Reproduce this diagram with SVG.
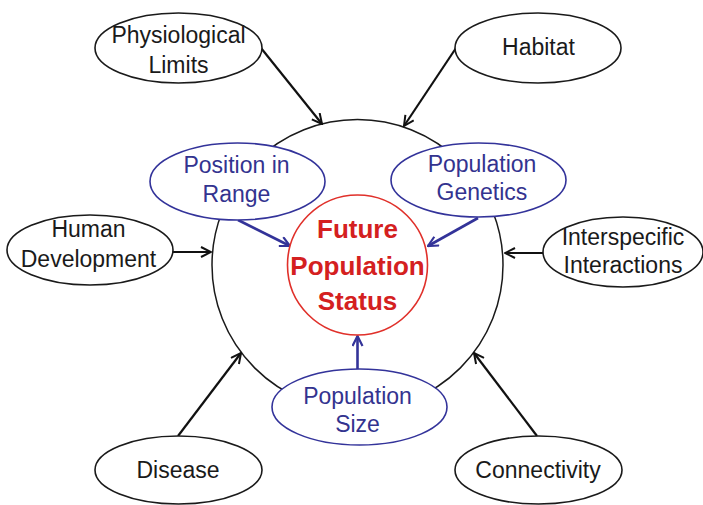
<svg xmlns="http://www.w3.org/2000/svg" width="703" height="505" viewBox="0 0 703 505">
<defs>
<style>
.outer{fill:#fff;stroke:#1a1a1a;stroke-width:1.6}
.inner{fill:#fff;stroke:#33339a;stroke-width:1.6}
.core{fill:#fff;stroke:#e0302a;stroke-width:1.6}
.t{font-family:"Liberation Sans",Arial,sans-serif;font-size:23px;text-anchor:middle;fill:#1a1a1a}
.tb{font-family:"Liberation Sans",Arial,sans-serif;font-size:23px;text-anchor:middle;fill:#33338f}
.tr{font-family:"Liberation Sans",Arial,sans-serif;font-size:26px;font-weight:bold;text-anchor:middle;fill:#d42020}
.ca{stroke:#111;stroke-width:2.2;fill:none}
.cb{stroke:#333399;stroke-width:2.6;fill:none}
</style>
<marker id="ak" viewBox="0 0 12 12" refX="11" refY="6" markerWidth="12" markerHeight="12" markerUnits="userSpaceOnUse" orient="auto">
<path d="M1,1 L11,6 L1,11" fill="none" stroke="#111" stroke-width="2"/>
</marker>
<marker id="ab" viewBox="0 0 12 12" refX="11" refY="6" markerWidth="12" markerHeight="12" markerUnits="userSpaceOnUse" orient="auto">
<path d="M1,1 L11,6 L1,11" fill="none" stroke="#333399" stroke-width="2.2"/>
</marker>
</defs>
<rect width="703" height="505" fill="#fff"/>
<g id="scope">
<circle cx="357.5" cy="265" r="145.5" fill="none" stroke="#1a1a1a" stroke-width="1.5"/>
</g>
<g id="connectors">
<line class="ca" x1="261" y1="48" x2="322" y2="124" marker-end="url(#ak)"/>
<line class="ca" x1="456" y1="48" x2="404" y2="126" marker-end="url(#ak)"/>
<line class="ca" x1="173" y1="252" x2="211" y2="252" marker-end="url(#ak)"/>
<line class="ca" x1="543" y1="253" x2="505" y2="253" marker-end="url(#ak)"/>
<line class="ca" x1="178" y1="436" x2="241" y2="353" marker-end="url(#ak)"/>
<line class="ca" x1="537" y1="436" x2="474" y2="353" marker-end="url(#ak)"/>
<line class="cb" x1="238" y1="220" x2="290" y2="246" marker-end="url(#ab)"/>
<line class="cb" x1="478" y1="218" x2="428" y2="246" marker-end="url(#ab)"/>
<line class="cb" x1="357.5" y1="369" x2="357.5" y2="336" marker-end="url(#ab)"/>
</g>
<g id="physiological-limits">
<ellipse class="outer" cx="178.5" cy="48" rx="83.5" ry="35"/>
<text class="t" x="178.5" y="43">Physiological</text>
<text class="t" x="178.5" y="73">Limits</text>
</g>
<g id="habitat">
<ellipse class="outer" cx="538" cy="48" rx="83" ry="35"/>
<text class="t" x="538.5" y="55">Habitat</text>
</g>
<g id="human-development">
<ellipse class="outer" cx="90" cy="250" rx="83" ry="35"/>
<text class="t" x="88.5" y="237">Human</text>
<text class="t" x="88.5" y="267">Development</text>
</g>
<g id="interspecific-interactions">
<ellipse class="outer" cx="623" cy="252" rx="80" ry="35"/>
<text class="t" x="623" y="245">Interspecific</text>
<text class="t" x="623" y="273">Interactions</text>
</g>
<g id="disease">
<ellipse class="outer" cx="178.5" cy="470" rx="83.5" ry="34"/>
<text class="t" x="178" y="478">Disease</text>
</g>
<g id="connectivity">
<ellipse class="outer" cx="538.5" cy="470" rx="83.5" ry="34"/>
<text class="t" x="538" y="478">Connectivity</text>
</g>
<g id="position-in-range">
<ellipse class="inner" cx="237.5" cy="181.5" rx="87.5" ry="38.5"/>
<text class="tb" x="236.5" y="173">Position in</text>
<text class="tb" x="236.5" y="202">Range</text>
</g>
<g id="population-genetics">
<ellipse class="inner" cx="478.5" cy="180" rx="87.5" ry="37"/>
<text class="tb" x="482" y="172">Population</text>
<text class="tb" x="482" y="200">Genetics</text>
</g>
<g id="population-size">
<ellipse class="inner" cx="359.5" cy="407" rx="87.5" ry="38"/>
<text class="tb" x="357.5" y="404">Population</text>
<text class="tb" x="357.5" y="432">Size</text>
</g>
<g id="future-population-status">
<circle class="core" cx="357.5" cy="265" r="70"/>
<text class="tr" x="357.5" y="238">Future</text>
<text class="tr" x="357.5" y="275">Population</text>
<text class="tr" x="357.5" y="310">Status</text>
</g>
</svg>
